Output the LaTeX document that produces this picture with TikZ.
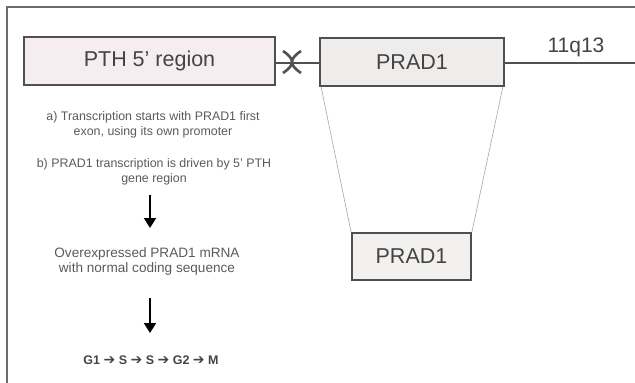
\documentclass[tikz,border=0pt]{standalone}
\usepackage{fontspec}
\setmainfont{Liberation Sans}
\newfontfamily\dvfont{DejaVu Sans}
\usetikzlibrary{arrows.meta,calc}
\definecolor{boxline}{HTML}{505050}
\definecolor{pthfill}{HTML}{F5EDEF}
\definecolor{pradfill}{HTML}{EFEDEC}
\definecolor{txtgray}{HTML}{444444}
\definecolor{smallgray}{HTML}{5A5A5A}
\begin{document}
\begin{tikzpicture}[x=1pt,y=-1pt,
  genebox/.style={draw=boxline,line width=1.8pt,inner sep=0pt,text=txtgray,
    font=\fontsize{21.5}{25}\selectfont},
  smalltext/.style={align=center,inner sep=0pt,text=smallgray,
    font=\fontsize{12.4}{15}\selectfont},
  chrline/.style={draw=boxline,line width=1.8pt},
  fanline/.style={draw=gray!70,line width=0.6pt},
  downarrow/.style={draw=black,line width=2pt,-{Triangle[length=10pt,width=12pt]}},
  frameline/.style={draw=gray!85!black,line width=1.5pt}]
\useasboundingbox (0,0) rectangle (635,383);
% frame (top and left edges visible)
\coordinate (ftl) at (7,7);
\coordinate (ftr) at (636,7);
\coordinate (fbl) at (7,384);
\draw[frameline] (ftr) -- (ftl) -- (fbl);
% gene boxes
\node[genebox,fill=pthfill,minimum width=251pt,minimum height=48pt] (pth) at (149.5,61) {PTH 5' region};
\node[genebox,fill=pradfill,minimum width=184pt,minimum height=48pt] (prad) at (412,62) {PRAD1};
\node[genebox,fill=pradfill!80!white,minimum width=119pt,minimum height=47pt] (prad2) at (411.5,256.5) {PRAD1};
\coordinate (chrend) at (636,63);
\node[inner sep=0pt,text=txtgray,font=\fontsize{21}{24}\selectfont] (band) at (576,47) {11q13};
% chromosome line
\draw[chrline] (pth.east |- 0,63) -- (prad.west |- 0,63);
\draw[chrline] (prad.east |- 0,63) -- (chrend);
% break mark
\coordinate (bk) at (292,62);
\draw[boxline,line width=2.6pt] ($(bk)+(-9,-11)$) .. controls ($(bk)+(3,-3)$) and ($(bk)+(3,3)$) .. ($(bk)+(-9,11)$);
\draw[boxline,line width=2.6pt] ($(bk)+(9,-11)$) .. controls ($(bk)+(-3,-3)$) and ($(bk)+(-3,3)$) .. ($(bk)+(9,11)$);
% fan lines
\draw[fanline] ([xshift=2pt]prad.south west) -- (prad2.north west);
\draw[fanline] ([xshift=-2pt]prad.south east) -- (prad2.north east);
% left text
\node[smalltext] (ta) at (153,124.5) {a) Transcription starts with PRAD1 first\\exon, using its own promoter};
\node[smalltext] (tb) at (154,172) {b) PRAD1 transcription is driven by 5' PTH\\gene region};
\node[smalltext,font=\fontsize{13.6}{15}\selectfont] (tc) at (147,261.5) {Overexpressed PRAD1 mRNA\\with normal coding sequence};
\node[inner sep=0pt,text=txtgray,font=\fontsize{12.5}{14}\selectfont\bfseries] (td) at (151,360)
  {G1 {\dvfont\fontsize{14}{14}\selectfont ➔} S {\dvfont\fontsize{14}{14}\selectfont ➔} S {\dvfont\fontsize{14}{14}\selectfont ➔} G2 {\dvfont\fontsize{14}{14}\selectfont ➔} M};
\coordinate (a1s) at (150,195);
\coordinate (a1e) at (150,228);
\coordinate (a2s) at (150,298);
\coordinate (a2e) at (150,333);
\draw[downarrow] (a1s) -- (a1e);
\draw[downarrow] (a2s) -- (a2e);
\end{tikzpicture}
\end{document}
